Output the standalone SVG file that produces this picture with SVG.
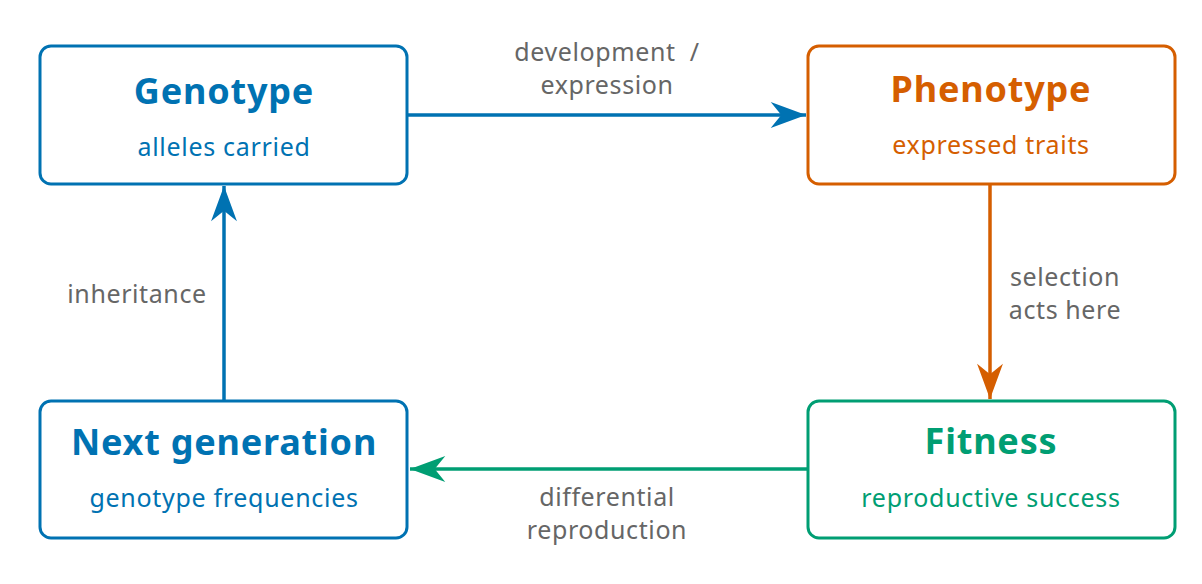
<svg xmlns="http://www.w3.org/2000/svg" width="1202" height="584" viewBox="0 0 1202 584">
<style>
.box{fill:#fff;stroke-width:3}
.t{font-family:"Noto Sans","Open Sans",sans-serif;font-weight:bold;font-size:36px;letter-spacing:0.8px;text-anchor:middle}
.s{font-family:"Noto Sans","Open Sans",sans-serif;font-size:25px;letter-spacing:0.7px;text-anchor:middle}
.l{font-family:"Noto Sans","Open Sans",sans-serif;font-size:25px;letter-spacing:0.6px;text-anchor:middle;fill:#666;white-space:pre}
.blue{stroke:#0072B2}.orange{stroke:#D55E00}.green{stroke:#009E73}
.fb{fill:#0072B2}.fo{fill:#D55E00}.fg{fill:#009E73}
.c{fill:none;stroke-width:3.5}
</style>
<defs>
<marker id="ab" markerUnits="userSpaceOnUse" markerWidth="40" markerHeight="40" viewBox="-32 -13 34 26" refX="0" refY="0" orient="auto"><path d="M0,0 L-30,-11 L-21,0 L-30,11 Z" fill="#0072B2"/></marker>
<marker id="ao" markerUnits="userSpaceOnUse" markerWidth="40" markerHeight="40" viewBox="-32 -13 34 26" refX="0" refY="0" orient="auto"><path d="M0,0 L-30,-11 L-21,0 L-30,11 Z" fill="#D55E00"/></marker>
<marker id="ag" markerUnits="userSpaceOnUse" markerWidth="40" markerHeight="40" viewBox="-32 -13 34 26" refX="0" refY="0" orient="auto"><path d="M0,0 L-30,-11 L-21,0 L-30,11 Z" fill="#009E73"/></marker>
</defs>
<rect width="1202" height="584" fill="#fff"/>
<g id="connectors">
<path class="c blue" d="M408,115 L806,115" marker-end="url(#ab)"/>
<path class="c orange" d="M990,185 L990,399" marker-end="url(#ao)"/>
<path class="c green" d="M807,469 L410,469" marker-end="url(#ag)"/>
<path class="c blue" d="M224,400 L224,186" marker-end="url(#ab)"/>
<text class="l" x="607" y="61">development  /</text>
<text class="l" x="607" y="94">expression</text>
<text class="l" x="1065" y="286">selection</text>
<text class="l" x="1065" y="319">acts here</text>
<text class="l" x="137" y="303">inheritance</text>
<text class="l" x="607" y="506">differential</text>
<text class="l" x="607" y="539">reproduction</text>
</g>
<g id="genotype">
<rect class="box blue" x="40" y="46" width="367" height="138" rx="11"/>
<text class="t fb" x="224" y="104">Genotype</text>
<text class="s fb" x="224" y="156">alleles carried</text>
</g>
<g id="phenotype">
<rect class="box orange" x="808" y="46" width="367" height="138" rx="11"/>
<text class="t fo" x="991" y="102">Phenotype</text>
<text class="s fo" x="991" y="154">expressed traits</text>
</g>
<g id="fitness">
<rect class="box green" x="808" y="401" width="367" height="137" rx="11"/>
<text class="t fg" x="991" y="454">Fitness</text>
<text class="s fg" x="991" y="507">reproductive success</text>
</g>
<g id="nextgen">
<rect class="box blue" x="40" y="401" width="367" height="137" rx="11"/>
<text class="t fb" x="224" y="455">Next generation</text>
<text class="s fb" x="224" y="507">genotype frequencies</text>
</g>
</svg>
